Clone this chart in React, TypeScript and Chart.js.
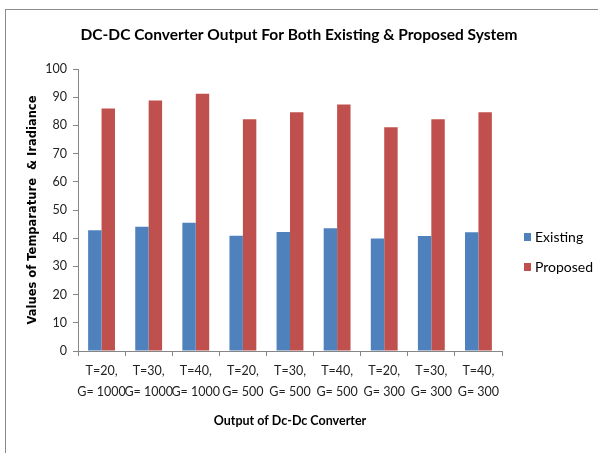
import React, { useEffect, useRef } from "react";
import { Chart, registerables } from "chart.js";

Chart.register(...registerables);

const categories: string[][] = [
  ["T=20,", "G= 1000"],
  ["T=30,", "G= 1000"],
  ["T=40,", "G= 1000"],
  ["T=20,", "G= 500"],
  ["T=30,", "G= 500"],
  ["T=40,", "G= 500"],
  ["T=20,", "G= 300"],
  ["T=30,", "G= 300"],
  ["T=40,", "G= 300"],
];

const existing = [42.8, 44.1, 45.5, 40.9, 42.2, 43.5, 39.9, 40.8, 42.1];
const proposed = [86.0, 88.8, 91.2, 82.2, 84.7, 87.4, 79.3, 82.2, 84.7];

const seriesNames = ["Existing", "Proposed"];
const seriesColors = ["#4F81BD", "#C0504D"];

const chartTitle = "DC-DC Converter Output For Both Existing & Proposed System";
const yTitle = "Values of Temparature  & Iradiance";
const xTitle = "Output of Dc-Dc Converter";

const FONT = "Lato, 'Liberation Sans', sans-serif";
const AXIS_GRAY = "#868686";

const titleLegendPlugin = {
  id: "titleLegend",
  afterDraw(chart: any) {
    const { ctx, chartArea } = chart;
    ctx.save();
    // chart title, centred on the whole canvas
    ctx.font = `bold 15.5px ${FONT}`;
    ctx.fillStyle = "#000";
    ctx.textAlign = "center";
    ctx.textBaseline = "middle";
    ctx.fillText(chartTitle, chart.width / 2, 35);

    // legend
    const mid = (chartArea.top + chartArea.bottom) / 2;
    ctx.font = `14px ${FONT}`;
    ctx.textAlign = "left";
    chart.data.datasets.forEach((ds: any, i: number) => {
      const y = mid + 27 + i * 30;
      const x = chartArea.right + 22;
      ctx.fillStyle = ds.backgroundColor;
      ctx.fillRect(x, y - 4, 7, 8);
      ctx.fillStyle = "#000";
      ctx.fillText(ds.label, x + 11, y);
    });
    ctx.restore();
  },
};

export default function App() {
  const ref = useRef<HTMLCanvasElement>(null);

  useEffect(() => {
    if (!ref.current) return;
    const chart = new Chart(ref.current, {
      type: "bar",
      data: {
        labels: categories,
        datasets: [
          {
            label: seriesNames[0],
            data: existing,
            backgroundColor: seriesColors[0],
            categoryPercentage: 0.57,
            barPercentage: 1,
          },
          {
            label: seriesNames[1],
            data: proposed,
            backgroundColor: seriesColors[1],
            categoryPercentage: 0.57,
            barPercentage: 1,
          },
        ],
      },
      options: {
        responsive: false,
        animation: false,
        layout: { padding: { left: 0, right: 96, top: 69, bottom: 0 } },
        plugins: {
          legend: { display: false },
          tooltip: { enabled: false },
          title: { display: false },
        },
        scales: {
          x: {
            offset: true,
            grid: {
              display: true,
              offset: true,
              drawOnChartArea: false,
              drawTicks: true,
              tickLength: 5,
              color: AXIS_GRAY,
            },
            border: { display: true, color: AXIS_GRAY },
            ticks: {
              color: "#222",
              font: { family: FONT, size: 12.5, lineHeight: 1.7 },
              autoSkip: false,
              maxRotation: 0,
              minRotation: 0,
              padding: 4,
            },
            title: {
              display: true,
              text: xTitle,
              color: "#000",
              font: { family: FONT, size: 12.5, weight: "bold" },
              padding: { top: 0, bottom: 25 },
            },
            afterFit(scale: any) {
              scale.height = 102;
            },
          },
          y: {
            min: 0,
            max: 100,
            ticks: {
              stepSize: 10,
              color: "#222",
              font: { family: FONT, size: 12.5 },
              padding: 6,
            },
            grid: {
              display: true,
              drawOnChartArea: false,
              drawTicks: true,
              tickLength: 5,
              color: AXIS_GRAY,
            },
            border: { display: true, color: AXIS_GRAY },
            title: {
              display: true,
              text: yTitle,
              color: "#000",
              font: { family: "'DejaVu Sans', sans-serif", size: 11.5, weight: "bold" },
              padding: { top: 26, bottom: 0 },
            },
            afterFit(scale: any) {
              scale.width = 78;
            },
          },
        },
      },
      plugins: [titleLegendPlugin],
    });
    return () => chart.destroy();
  }, []);

  return (
    <div
      style={{
        position: "absolute",
        left: 0,
        top: 0,
        width: 598,
        height: 453,
        background: "#fff",
      }}
    >
      <div
        style={{
          position: "absolute",
          left: 5,
          top: 9,
          width: 600,
          height: 450,
          borderLeft: "1px solid #8c8c8c",
          borderTop: "1px solid #8c8c8c",
          boxSizing: "border-box",
        }}
      />
      <canvas
        ref={ref}
        width={598}
        height={453}
        style={{ position: "absolute", left: 0, top: 0, width: 598, height: 453 }}
      />
    </div>
  );
}
